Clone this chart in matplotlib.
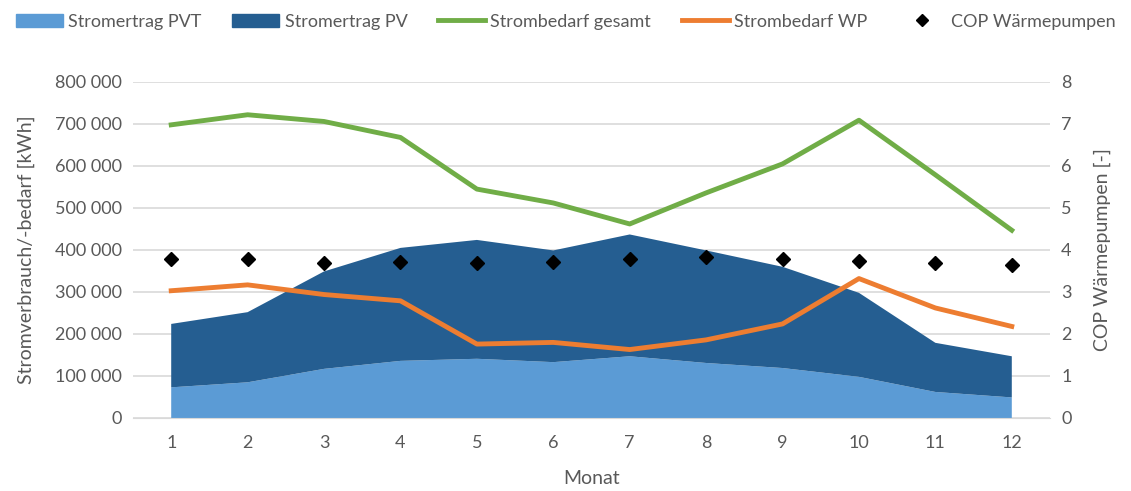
import matplotlib
matplotlib.use("Agg")
import matplotlib.pyplot as plt
from matplotlib.patches import Patch
from matplotlib.lines import Line2D
from matplotlib.ticker import FuncFormatter

plt.rcParams['font.family'] = ['Lato', 'DejaVu Sans']

months = [1, 2, 3, 4, 5, 6, 7, 8, 9, 10, 11, 12]
pvt = [73000, 85000, 117000, 136000, 141000, 133000, 147000, 131000, 119000, 98000, 62000, 49000]
pv = [151000, 167000, 232000, 269000, 283000, 266000, 290000, 268000, 241000, 200000, 117000, 98000]
bedarf_gesamt = [698000, 722000, 706000, 668000, 545000, 512000, 462000, 536000, 605000, 709000, 579000, 447000]
bedarf_wp = [303000, 317000, 294000, 279000, 176000, 180000, 163000, 186000, 224000, 332000, 262000, 218000]
cop = [3.79, 3.79, 3.70, 3.72, 3.70, 3.72, 3.79, 3.83, 3.79, 3.74, 3.70, 3.64]

c_pvt = '#5b9bd5'
c_pv = '#255e91'
c_ges = '#70ad47'
c_wp = '#ed7d31'
txt = '#595959'

fig = plt.figure(figsize=(11.31, 4.91), dpi=100)
ax = fig.add_axes([133/1131, 1-418/491, (1050-133)/1131, (418-82)/491])
ax2 = ax.twinx()

ax.stackplot(months, pvt, pv, colors=[c_pvt, c_pv], linewidth=0, zorder=2)
ax.plot(months, bedarf_gesamt, color=c_ges, lw=3.5, zorder=3)
ax.plot(months, bedarf_wp, color=c_wp, lw=3.5, zorder=3)
ax2.plot(months, cop, linestyle='none', marker='D', color='black', markersize=7)

ax.set_xlim(0.5, 12.5)
ax.set_ylim(0, 800000)
ax2.set_ylim(0, 8)
ax.set_xticks(months)
ax.set_yticks(range(0, 800001, 100000))
ax2.set_yticks(range(0, 9))
ax.yaxis.set_major_formatter(FuncFormatter(lambda v, p: f"{int(v):,}".replace(",", " ")))
ax.grid(axis='y', color='#d9d9d9', lw=1.2, zorder=0)
ax.set_axisbelow(True)
for a in (ax, ax2):
    for s in a.spines.values():
        s.set_visible(False)
    a.tick_params(length=0, labelsize=13, colors=txt, pad=8)
ax.tick_params(axis='x', pad=12)
ax.spines['bottom'].set_visible(True)
ax.spines['bottom'].set_color('#d9d9d9')
ax.set_ylabel('Stromverbrauch/-bedarf [kWh]', fontsize=14, color=txt, labelpad=14)
ax2.set_ylabel('COP Wärmepumpen [-]', fontsize=14, color=txt, labelpad=16)
ax.set_xlabel('Monat', fontsize=14, color=txt, labelpad=14)

handles = [
    Patch(color=c_pvt, label='Stromertrag PVT'),
    Patch(color=c_pv, label='Stromertrag PV'),
    Line2D([], [], color=c_ges, lw=3.5, label='Strombedarf gesamt'),
    Line2D([], [], color=c_wp, lw=3.5, label='Strombedarf WP'),
    Line2D([], [], color='black', marker='D', linestyle='none', markersize=6, label='COP Wärmepumpen'),
]
leg = fig.legend(handles=handles, loc='upper center', bbox_to_anchor=(0.5, 1.005), ncol=5,
                 frameon=False, fontsize=13, handlelength=2.6, columnspacing=1.7, handletextpad=0.3)
for t in leg.get_texts():
    t.set_color(txt)

fig.savefig('out.png', dpi=100)
